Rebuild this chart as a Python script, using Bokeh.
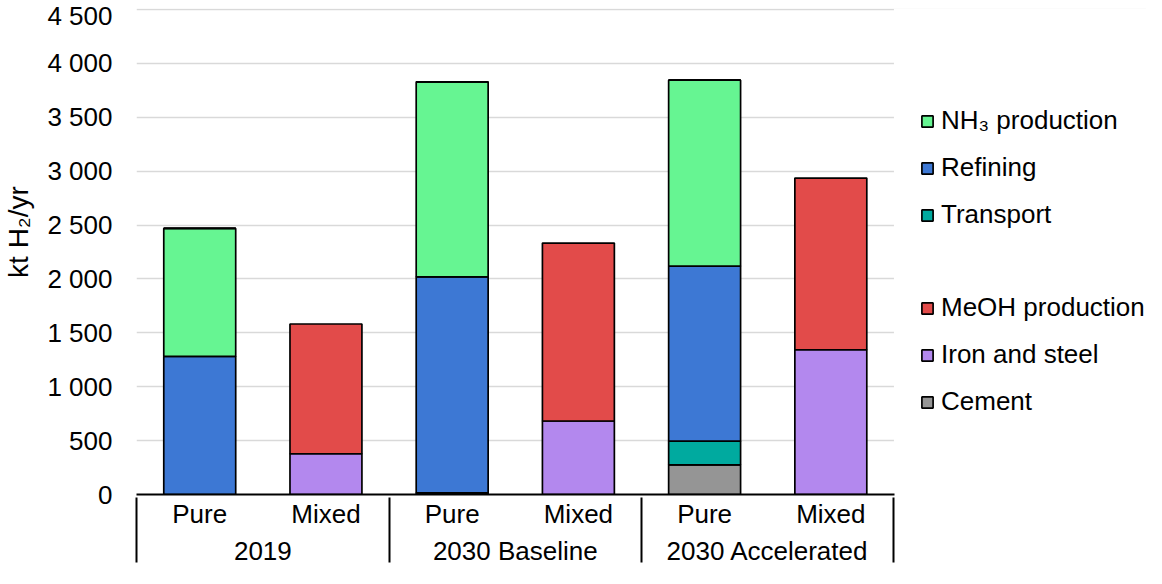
from bokeh.plotting import figure
from bokeh.models import (FactorRange, Range1d, Legend, LegendItem, FixedTicker,
                          ColumnDataSource, BoxAnnotation)
from bokeh.embed import file_html
from bokeh.resources import INLINE

# ---- data ----
scenarios = ["2019", "2030 Baseline", "2030 Accelerated"]
variants = ["Pure", "Mixed"]
factors = [(s, v) for s in scenarios for v in variants]

cement = [0, 0, 0, 0, 275, 0]
transport = [0, 0, 15, 0, 220, 0]
refining = [1282, 0, 2005, 0, 1624, 0]
nh3 = [1187, 0, 1809, 0, 1725, 0]
iron_steel = [0, 378, 0, 682, 0, 1343]
meoh = [0, 1204, 0, 1651, 0, 1593]

series_keys = ["cement", "transport", "refining", "nh3", "iron", "meoh"]
series_colors = ["#959595", "#00AA9F", "#3D78D4", "#66F592", "#B388EE", "#E24B4A"]

legend_top = [("nh3", "NH\u2083 production"), ("refining", "Refining"), ("transport", "Transport")]
legend_bottom = [("meoh", "MeOH production"), ("iron", "Iron and steel"), ("cement", "Cement")]

y_ticks = [0, 500, 1000, 1500, 2000, 2500, 3000, 3500, 4000, 4500]
y_tick_labels = ["0", "500", "1 000", "1 500", "2 000", "2 500", "3 000", "3 500", "4 000", "4 500"]
y_label = "kt H\u2082/yr"

# hidden groups (never labelled): the left/right ones make the axis draw the outer
# edges of the category table, the extra right one leaves room for the legend
edge_left = [("edge_l", "a"), ("edge_l", "b")]
edge_right = [("edge_r1", "a"), ("edge_r1", "b"), ("edge_r2", "a"), ("edge_r2", "b")]

FONT = "Liberation Sans"
FS = "26px"

n_left = len(edge_left)
n_real = len(factors)

source = ColumnDataSource(dict(x=factors, cement=cement, transport=transport, refining=refining,
                               nh3=nh3, iron=iron_steel, meoh=meoh))

x_range = FactorRange(*(edge_left + factors + edge_right), group_padding=0, factor_padding=0,
                      range_padding=-(n_left - 0.001), range_padding_units="absolute")

p = figure(width=1146, height=568, output_backend="svg", toolbar_location=None,
           x_range=x_range, y_range=Range1d(0, 4509))
p.min_border_left = 130
p.min_border_right = 0
p.min_border_top = 8
p.min_border_bottom = 74
p.outline_line_color = None
p.background_fill_color = "white"
p.border_fill_color = "white"

# grid
p.xgrid.visible = False
p.ygrid.grid_line_color = "#D9D9D9"
p.ygrid.grid_line_width = 1.5
# keep the grid out of the legend area
p.add_layout(BoxAnnotation(left=n_left + n_real, fill_color="white", fill_alpha=1,
                           line_alpha=0, level="underlay"))

rs = p.vbar_stack(series_keys, x="x", width=0.57, source=source,
                  fill_color=series_colors, line_color="black", line_width=1.7)
rmap = dict(zip(series_keys, rs))

# y axis
yax = p.yaxis[0]
yax.ticker = FixedTicker(ticks=y_ticks)
yax.major_label_overrides = {t: l for t, l in zip(y_ticks, y_tick_labels)}
yax.axis_line_color = None
yax.major_tick_line_color = None
yax.minor_tick_line_color = None
yax.major_tick_out = 0
yax.major_tick_in = 0
yax.minor_tick_out = 0
yax.major_label_standoff = 24
yax.major_label_text_font = FONT
yax.major_label_text_font_size = FS
yax.major_label_text_color = "black"
yax.axis_label = "\u00a0" * 5 + y_label
yax.axis_label_text_font = FONT
yax.axis_label_text_font_size = "28px"
yax.axis_label_text_font_style = "normal"
yax.axis_label_text_color = "black"
yax.axis_label_standoff = 10

# x axis (two-level categories)
xax = p.xaxis[0]
xax.bounds = (n_left - 0.001, n_left + n_real + 0.001)
xax.axis_line_color = "black"
xax.axis_line_width = 2
xax.major_tick_line_color = None
xax.major_tick_out = 0
xax.major_tick_in = 0
xax.minor_tick_line_color = None
xax.minor_tick_out = 0
xax.axis_label_standoff = 0
xax.axis_label_text_font_size = "1px"
xax.major_label_standoff = 4
xax.major_label_text_font = FONT
xax.major_label_text_font_size = FS
xax.major_label_text_color = "black"
xax.group_text_font = FONT
xax.group_text_font_size = FS
xax.group_text_font_style = "normal"
xax.group_text_color = "black"
xax.separator_line_color = "black"
xax.separator_line_width = 2

# legend (one spacer row between the two groups)
spacer = p.vbar(x=[], top=[], width=0.5, fill_alpha=0, line_alpha=0)
items = [LegendItem(label=n, renderers=[rmap[k]]) for k, n in legend_top]
items.append(LegendItem(label=" ", renderers=[spacer]))
items += [LegendItem(label=n, renderers=[rmap[k]]) for k, n in legend_bottom]
lg = Legend(items=items, location=(784, 77), orientation="vertical")
lg.label_text_font = FONT
lg.label_text_font_size = FS
lg.label_text_color = "black"
lg.label_text_baseline = "middle"
lg.glyph_width = 14
lg.glyph_height = 14
lg.label_height = 30
lg.spacing = 16
lg.padding = 0
lg.margin = 0
lg.label_standoff = 7
lg.border_line_alpha = 0
lg.background_fill_alpha = 0
p.add_layout(lg)

open("out.html", "w").write(file_html(p, INLINE))
